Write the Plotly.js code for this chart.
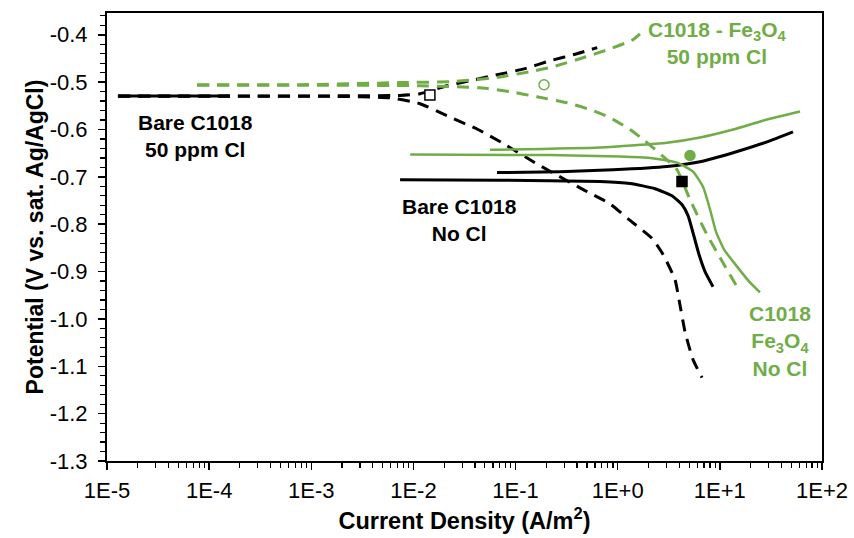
<!DOCTYPE html>
<html>
<head>
<meta charset="utf-8">
<script src="https://cdn.plot.ly/plotly-3.0.1.min.js"></script>
<style>html,body{margin:0;padding:0;background:#fff;}#chart{width:854px;height:538px;}</style>
</head>
<body>
<div id="chart"></div>
<script>
// ---- Data (current density in A/m^2, potential in V vs. sat. Ag/AgCl) ----
const xTickVals = [1e-5, 1e-4, 1e-3, 1e-2, 1e-1, 1, 10, 100];
const xTickText = ['1E-5', '1E-4', '1E-3', '1E-2', '1E-1', '1E+0', '1E+1', '1E+2'];
const yTickVals = [-1.3, -1.2, -1.1, -1.0, -0.9, -0.8, -0.7, -0.6, -0.5, -0.4];
const yTickText = ['-1.3', '-1.2', '-1.1', '-1.0', '-0.9', '-0.8', '-0.7', '-0.6', '-0.5', '-0.4'];

// Bare C1018, 50 ppm Cl (black dashed)
const bare50PlateauI = [1.28e-5, 1.6e-4];
const bare50PlateauE = [-0.5295, -0.5295];
const bare50AnodicI = [1.28e-5, 1.6e-4, 1.52e-3, 7.4e-3, 0.0116, 0.0213, 0.0358, 0.0658, 0.121, 0.217, 0.40, 0.63];
const bare50AnodicE = [-0.529, -0.529, -0.529, -0.528, -0.5245, -0.5076, -0.497, -0.4845, -0.472, -0.455, -0.440, -0.427];
const bare50CathodicI = [1.28e-5, 1.6e-4, 1.52e-3, 5.9e-3, 0.0116, 0.0213, 0.0428, 0.0736, 0.166, 0.479, 0.84, 1.32, 2.17, 2.78, 3.64, 3.98, 4.56, 5.46, 6.69];
const bare50CathodicE = [-0.530, -0.530, -0.530, -0.533, -0.5456, -0.571, -0.600, -0.628, -0.674, -0.729, -0.757, -0.792, -0.830, -0.864, -0.917, -0.959, -1.027, -1.086, -1.124];

// Bare C1018, no Cl (black solid)
const bareNoClCathI = [7.4e-3, 0.0705, 0.67, 1.32, 2.32, 3.40, 4.27, 4.88, 5.46, 6.25, 7.16, 8.57];
const bareNoClCathE = [-0.706, -0.707, -0.710, -0.714, -0.725, -0.740, -0.759, -0.782, -0.818, -0.864, -0.900, -0.932];
const bareNoClAnodI = [0.0658, 0.272, 0.90, 3.04, 6.39, 13.5, 29.0, 52];
const bareNoClAnodE = [-0.691, -0.689, -0.685, -0.678, -0.668, -0.649, -0.626, -0.605];

// C1018 - Fe3O4, no Cl (green solid)
const feNoClCathI = [9.3e-3, 0.217, 1.05, 2.07, 3.81, 5.46, 6.84, 8.02, 9.16, 11.0, 13.5, 19.7, 24.7];
const feNoClCathE = [-0.653, -0.654, -0.657, -0.660, -0.670, -0.689, -0.721, -0.769, -0.8156, -0.8536, -0.879, -0.923, -0.944];
const feNoClAnodI = [0.0562, 0.67, 3.04, 6.39, 13.5, 29.0, 61];
const feNoClAnodE = [-0.643, -0.638, -0.628, -0.617, -0.600, -0.579, -0.562];

// C1018 - Fe3O4, 50 ppm Cl (green dashed)
const fe50AnodI = [7.6e-5, 7.8e-4, 7.4e-3, 0.0228, 0.040, 0.0705, 0.138, 0.233, 0.457, 0.785, 1.41, 1.65];
const fe50AnodE = [-0.5055, -0.5055, -0.501, -0.499, -0.495, -0.489, -0.478, -0.4675, -0.4485, -0.432, -0.4105, -0.398];
const fe50CathI = [7.6e-5, 7.8e-4, 0.0116, 0.0449, 0.088, 0.162, 0.319, 0.536, 0.84, 1.32, 1.85, 2.72, 3.81, 5.1, 7.48, 10.7, 14.7];
const fe50CathE = [-0.5065, -0.5065, -0.5075, -0.512, -0.520, -0.531, -0.5435, -0.558, -0.575, -0.600, -0.624, -0.655, -0.685, -0.748, -0.822, -0.881, -0.932];

// Corrosion points (icorr, Ecorr)
const bare50CorrI = [0.0145], bare50CorrE = [-0.527];
const fe50CorrI = [0.19], fe50CorrE = [-0.5055];
const feNoClCorrI = [5.1], feNoClCorrE = [-0.655];
const bareNoClCorrI = [4.26], bareNoClCorrE = [-0.710];

// Label texts
const labelBare50 = '<b>Bare C1018<br>50 ppm Cl</b>';
const labelBareNoCl = '<b>Bare C1018<br>No Cl</b>';
const labelFe50 = '<b>C1018 - Fe<sub>3</sub>O<sub>4</sub><br>50 ppm Cl</b>';
const labelFeNoCl = '<b>C1018<br>Fe<sub>3</sub>O<sub>4</sub><br>No Cl</b>';

// ---- Styling ----
const BLACK = '#000000';
const GREEN = '#70AD47';
const FONT = 'Liberation Sans, Arial, sans-serif';
const DASH = '12px,8px';

function line(x, y, color, dash, width) {
  return {x: x, y: y, type: 'scatter', mode: 'lines', hoverinfo: 'skip',
          line: {color: color, width: width || 3, dash: dash || 'solid', shape: 'spline', smoothing: 0.5}};
}
function marker(x, y, symbol, color, fill) {
  return {x: x, y: y, type: 'scatter', mode: 'markers', hoverinfo: 'skip',
          marker: {symbol: symbol, size: 10, color: fill, line: {color: color, width: 1.5}}};
}

const traces = [
  line(bare50PlateauI, bare50PlateauE, BLACK, 'solid', 3),
  line(bare50AnodicI, bare50AnodicE, BLACK, DASH, 3),
  line(bare50CathodicI, bare50CathodicE, BLACK, DASH, 3),
  line(fe50AnodI, fe50AnodE, GREEN, DASH, 3),
  line(fe50CathI, fe50CathE, GREEN, DASH, 3),
  line(bareNoClCathI, bareNoClCathE, BLACK, 'solid', 3),
  line(bareNoClAnodI, bareNoClAnodE, BLACK, 'solid', 3),
  line(feNoClCathI, feNoClCathE, GREEN, 'solid', 2.5),
  line(feNoClAnodI, feNoClAnodE, GREEN, 'solid', 2.5),
  marker(bare50CorrI, bare50CorrE, 'square', BLACK, '#ffffff'),
  marker(fe50CorrI, fe50CorrE, 'circle', GREEN, '#ffffff'),
  marker(feNoClCorrI, feNoClCorrE, 'circle', GREEN, GREEN),
  marker(bareNoClCorrI, bareNoClCorrE, 'square', BLACK, BLACK)
];

const annFont = (c) => ({family: FONT, size: 21, color: c});
// annotation x on a log axis is given in log10 units
const annotations = [
  {x: -4.13, y: -0.613, xref: 'x', yref: 'y', text: labelBare50, showarrow: false, font: annFont(BLACK), align: 'center'},
  {x: -1.545, y: -0.792, xref: 'x', yref: 'y', text: labelBareNoCl, showarrow: false, font: annFont(BLACK), align: 'center'},
  {x: 0.972, y: -0.418, xref: 'x', yref: 'y', text: labelFe50, showarrow: false, font: annFont(GREEN), align: 'center'},
  {x: 1.59, y: -1.046, xref: 'x', yref: 'y', text: labelFeNoCl, showarrow: false, font: annFont(GREEN), align: 'center'}
];

const layout = {
  width: 854, height: 538,
  margin: {l: 107, r: 32, t: 13, b: 77},
  paper_bgcolor: '#ffffff', plot_bgcolor: '#ffffff',
  showlegend: false,
  font: {family: FONT, size: 22, color: BLACK},
  xaxis: {
    type: 'log', range: [-5, 2],
    tickvals: xTickVals, ticktext: xTickText,
    ticks: 'outside', ticklen: 7, tickwidth: 1.5, tickcolor: BLACK,
    minor: {ticks: 'outside', ticklen: 5, tickwidth: 1.2, tickcolor: BLACK, dtick: 'D1', showgrid: false},
    showline: true, linecolor: BLACK, linewidth: 2, mirror: true,
    showgrid: false, zeroline: false,
    ticklabelstandoff: 2,
    tickfont: {family: FONT, size: 22, color: BLACK},
    title: {text: '<b>Current Density (A/m<sup>2</sup>)</b>', font: {family: FONT, size: 23.5, color: BLACK}, standoff: 10},
    automargin: false
  },
  yaxis: {
    range: [-1.3, -0.354],
    tickvals: yTickVals, ticktext: yTickText,
    ticks: 'outside', ticklen: 7, tickwidth: 1.5, tickcolor: BLACK,
    minor: {ticks: 'outside', ticklen: 5, tickwidth: 1.2, tickcolor: BLACK, dtick: 0.02, showgrid: false},
    showline: true, linecolor: BLACK, linewidth: 2, mirror: true,
    showgrid: false, zeroline: false,
    ticklabelstandoff: 6,
    tickfont: {family: FONT, size: 22, color: BLACK},
    title: {text: '<b>Potential (V vs. sat. Ag/AgCl)</b>', font: {family: FONT, size: 23, color: BLACK}, standoff: 0},
    automargin: false
  },
  annotations: annotations
};

Plotly.newPlot('chart', traces, layout, {staticPlot: true, displayModeBar: false});
</script>
</body>
</html>
